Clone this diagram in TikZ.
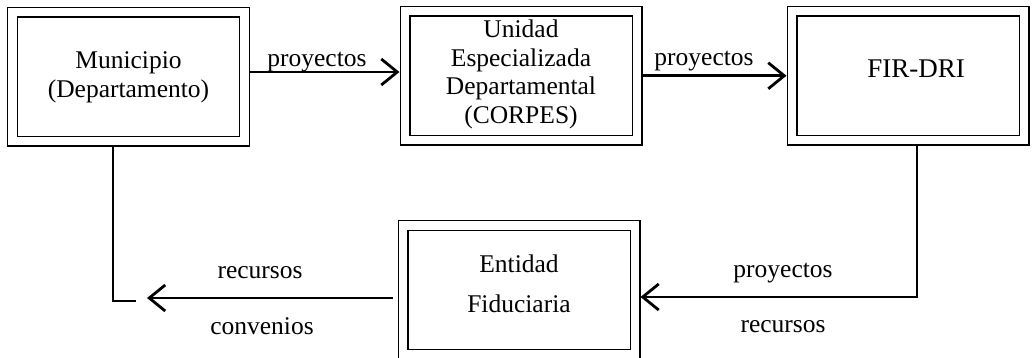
\documentclass[tikz,border=0pt]{standalone}
\usepackage{fontspec}
\setmainfont{Liberation Serif}
\usetikzlibrary{arrows.meta}
\tikzset{
  dbox/.style={draw, double, line width=1.4pt, double distance=8.2pt,
    minimum width=232pt, minimum height=129pt, inner sep=0pt,
    outer sep=5.5pt, align=center,
    font=\fontsize{25.5}{29}\selectfont},
  conn/.style={line width=2.8pt},
  arr/.style={line width=2.8pt, -{Straight Barb[length=16pt,width=26pt,line width=2.8pt]}},
  lbl/.style={anchor=base, inner sep=0pt, font=\fontsize{25.5}{29}\selectfont}
}
\begin{document}
\begin{tikzpicture}[x=1pt,y=-1pt]
\useasboundingbox (0,0) rectangle (1034,357);
\clip (0,0) rectangle (1034,357);
\node[dbox, text height=41pt, text depth=0pt] (mun) at (128.5,76.5) {Municipio\\(Departamento)};
\node[dbox, text height=94.5pt, text depth=0pt, font=\fontsize{25.5}{28.4}\selectfont] (ued) at (521,75.75) {Unidad\\Especializada\\Departamental\\(CORPES)};
\node[dbox, text height=2.5pt, text depth=0pt, font=\fontsize{27}{30}\selectfont] (fir) at (908,75.75) {\hspace*{16pt}FIR-DRI};
\node[dbox, text height=44pt, text depth=0pt] (ent) at (519,290) {Entidad\\[11pt]Fiduciaria};
\coordinate (stub) at (136,301);
\coordinate (tip) at (147,298);
% top arrows
\draw[arr] ([yshift=4.5pt]mun.east) -- ([yshift=4.5pt]mun.east -| ued.west);
\draw[arr] (ued.east) -- (ued.east -| fir.west);
% right loop
\draw[arr] ([xshift=9pt]fir.south) |- ([yshift=-7pt]ent.east);
% left return
\draw[arr] ([xshift=-5pt,yshift=-8pt]ent.west) -- (tip);
\draw[conn] ([xshift=-15.5pt]mun.south) |- (stub);
% labels
\node[lbl] (l1) at (317,66) {proyectos};
\node[lbl] (l2) at (704,65) {proyectos};
\node[lbl] (l3) at (783,277) {proyectos};
\node[lbl] (l4) at (783,332) {recursos};
\node[lbl] (l5) at (260,278) {recursos};
\node[lbl] (l6) at (262,334) {convenios};
\end{tikzpicture}
\end{document}
